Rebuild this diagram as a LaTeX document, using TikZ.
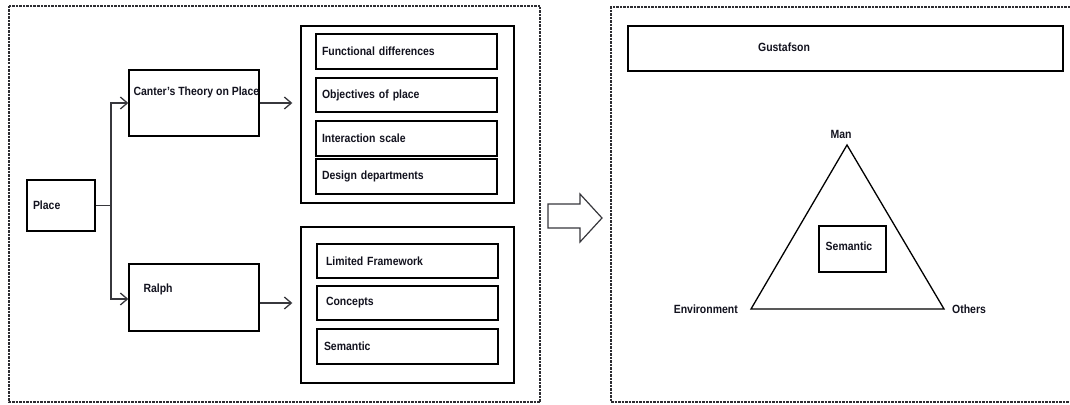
\documentclass[tikz,border=0pt]{standalone}
\usepackage{fontspec}
\setmainfont[FakeStretch=0.88]{Liberation Sans}
\usetikzlibrary{arrows.meta,calc}
\definecolor{ink}{RGB}{18,18,30}
\definecolor{wire}{RGB}{55,55,60}
\definecolor{framegray}{RGB}{45,45,50}

\begin{document}
\begin{tikzpicture}[x=1pt,y=-1pt,
  every node/.style={font=\fontsize{11.9}{13}\selectfont\bfseries, text=ink},
  box/.style={draw=black, line width=1.4pt, inner ysep=0pt},
  item/.style={box, minimum width=181pt, minimum height=34pt,
               text width=169pt, inner xsep=6pt, align=left},
  itemb/.style={item, text width=163pt, inner xsep=9pt},
  group/.style={draw=black, line width=1.4pt, minimum width=213pt, inner sep=0pt},
  lbl/.style={inner sep=0pt},
  panel/.style={draw=framegray, line width=1.1pt, dash pattern=on 2.5pt off 1pt},
  wireline/.style={draw=wire, line width=1.3pt},
  link/.style={wireline, -{Straight Barb[length=7pt,width=12pt,line width=1.3pt]}}
]
\useasboundingbox (0,0) rectangle (1070,404);

% dashed panels
\draw[panel] (9,6) rectangle (540,402);
\draw[panel] (1070,7) -- (611,7) -- (611,402) -- (1070,402);

% left panel: Place and its two branches
\node[box, minimum width=68pt, minimum height=51pt, text width=56pt,
      inner xsep=6pt, align=left] (place) at (61,205.5) {Place};

\node[box, minimum width=130pt, minimum height=66pt] (canter) at (194,103) {};
\node[lbl, anchor=west] (cantert) at ($(canter.north west)+(5,23)$) {Canter's Theory on Place};

\node[box, minimum width=130pt, minimum height=67pt] (ralph) at (194,297.5) {};
\node[lbl, anchor=west] (ralpht) at ($(ralph.north west)+(15,26)$) {Ralph};

\node[group, minimum height=177pt] (g1) at (407.5,114.5) {};
\node[item, minimum height=35pt] (f1) at (406.5,51.5) {Functional differences};
\node[item] (f2) at (406.5,95) {Objectives of place};
\node[item, minimum height=35pt] (f3) at (406.5,138.5) {Interaction scale};
\node[item, minimum height=35pt] (f4) at (406.5,176.5) {Design departments};

\node[group, minimum height=156pt] (g2) at (407.5,305) {};
\node[itemb] (r1) at (407.5,261) {Limited Framework};
\node[itemb] (r2) at (407.5,303) {Concepts};
\node[itemb, text width=167pt, inner xsep=7pt, minimum height=35pt] (r3) at (407.5,346.5) {Semantic};

% connectors
\coordinate (jn) at (111,205.5);
\draw[wireline] (place.east) -- (jn);
\draw[link] (jn) |- (canter.west);
\draw[link] (jn) |- ([yshift=-1.5pt]ralph.west);
\draw[link, shorten >=8pt] (canter.east) -- (canter.east -| g1.west);
\draw[link, shorten >=8pt] ([yshift=-5.5pt]ralph.east) -- ([yshift=-5.5pt]ralph.east -| g2.west);

% block arrow between the panels
\draw[draw=wire, line width=1.2pt, fill=white, line join=miter]
  (548,204) -- (580,204) -- (580,194) -- (602,218) -- (580,242) -- (580,228) -- (548,228) -- cycle;

% right panel
\node[box, minimum width=435pt, minimum height=45pt] (gus) at (845.5,48.5) {};
\node[lbl] (gust) at ($(gus.center)+(-61.5,-1.5)$) {Gustafson};

\coordinate (apex) at (847,145);
\coordinate (envv) at (751,309);
\coordinate (othv) at (944,309);
\draw[draw=black, line width=1.3pt, line join=miter] (apex) -- (envv) -- (othv) -- cycle;

\node[lbl] (man) at ($(apex)+(-6,-11)$) {Man};
\node[lbl, anchor=east] (env) at ($(envv)+(-13,0)$) {Environment};
\node[lbl, anchor=west] (oth) at ($(othv)+(8,0)$) {Others};

\node[box, minimum width=67pt, minimum height=46pt] (sem) at (852.5,249) {};
\node[lbl] (semt) at ($(sem.center)+(-3.5,-3)$) {Semantic};
\end{tikzpicture}
\end{document}
